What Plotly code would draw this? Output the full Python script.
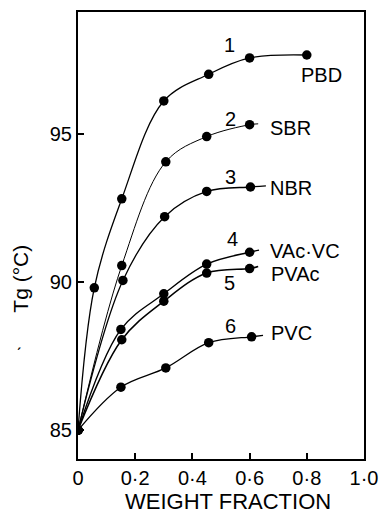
import plotly.graph_objects as go

# Data
labels = ["PBD", "SBR", "NBR", "VAc·VC", "PVAc", "PVC"]
numbers = ["1", "2", "3", "4", "5", "6"]

x_pbd = [0.0, 0.057, 0.153, 0.30, 0.457, 0.60, 0.80]
y_pbd = [85.0, 89.8, 92.8, 96.1, 97.0, 97.55, 97.65]

x_sbr = [0.0, 0.153, 0.307, 0.45, 0.60]
y_sbr = [85.0, 90.55, 94.05, 94.9, 95.3]

x_nbr = [0.0, 0.157, 0.303, 0.45, 0.603]
y_nbr = [85.0, 90.05, 92.2, 93.05, 93.2]

x_vacvc = [0.0, 0.15, 0.30, 0.45, 0.60]
y_vacvc = [85.0, 88.4, 89.6, 90.6, 91.0]

x_pvac = [0.0, 0.153, 0.30, 0.45, 0.60]
y_pvac = [85.0, 88.05, 89.35, 90.3, 90.45]

x_pvc = [0.0, 0.15, 0.307, 0.457, 0.607]
y_pvc = [85.0, 86.45, 87.1, 87.95, 88.15]

# where each drawn curve ends (line runs slightly past the last point)
line_end_x = [0.80, 0.63, 0.657, 0.633, 0.63, 0.647]
line_end_y = [97.65, 95.33, 93.24, 91.07, 90.52, 88.2]

# label positions
num_x = [0.53, 0.533, 0.533, 0.54, 0.53, 0.533]
num_y = [97.99, 95.5, 93.54, 91.45, 89.97, 88.52]
name_x = [0.773, 0.663, 0.663, 0.663, 0.667, 0.667]
name_y = [96.98, 95.2, 93.15, 91.04, 90.27, 88.29]

x_ticks = [0, 0.2, 0.4, 0.6, 0.8, 1.0]
x_ticktext = ["0", "0·2", "0·4", "0·6", "0·8", "1·0"]
y_ticks = [85, 90, 95]

series = [(x_pbd, y_pbd), (x_sbr, y_sbr), (x_nbr, y_nbr),
          (x_vacvc, y_vacvc), (x_pvac, y_pvac), (x_pvc, y_pvc)]
widths = [1.3, 1.0, 1.3, 1.4, 1.5, 1.3]

FONT = "Liberation Sans"
fig = go.Figure()
for i, (xs, ys) in enumerate(series):
    lx = list(xs) + ([line_end_x[i]] if line_end_x[i] > xs[-1] else [])
    ly = list(ys) + ([line_end_y[i]] if line_end_x[i] > xs[-1] else [])
    fig.add_trace(go.Scatter(x=lx, y=ly, mode="lines",
                             line=dict(color="black", width=widths[i], shape="spline", smoothing=1.0),
                             showlegend=False, hoverinfo="skip"))
    fig.add_trace(go.Scatter(x=xs, y=ys, mode="markers",
                             marker=dict(color="black", size=9.5),
                             showlegend=False))
    fig.add_annotation(x=num_x[i], y=num_y[i], text=numbers[i], showarrow=False,
                       font=dict(family=FONT, size=20, color="black"))
    fig.add_annotation(x=name_x[i], y=name_y[i], text=labels[i], showarrow=False,
                       xanchor="left", font=dict(family=FONT, size=20, color="black"))

fig.add_annotation(xref="paper", yref="paper", x=-0.2, y=0.403, text="Tg (°C)",
                   textangle=-90, showarrow=False, xanchor="center", yanchor="middle",
                   font=dict(family=FONT, size=21, color="black"))
fig.add_annotation(xref="paper", yref="paper", x=-0.207, y=0.232, text="ˊ",
                   showarrow=False, xanchor="center", yanchor="middle",
                   font=dict(family=FONT, size=18, color="black"))
fig.add_annotation(xref="paper", yref="paper", x=0.523, y=-0.096, yanchor="middle",
                   xanchor="center", text="WEIGHT FRACTION", showarrow=False,
                   font=dict(family=FONT, size=22, color="black"))

fig.update_xaxes(range=[0, 1.0], tickvals=x_ticks, ticktext=x_ticktext,
                 ticks="inside", ticklen=6, tickwidth=1.5, tickcolor="black",
                 showline=True, linecolor="black", linewidth=2, mirror=True,
                 showgrid=False, zeroline=False, ticklabeloverflow="allow",
                 tickfont=dict(family=FONT, size=20, color="black"))
fig.update_yaxes(range=[84.03, 99.1], tickvals=y_ticks,
                 ticks="inside", ticklen=6, tickwidth=1.5, tickcolor="black",
                 showline=True, linecolor="black", linewidth=2, mirror=True,
                 showgrid=False, zeroline=False,
                 tickfont=dict(family=FONT, size=20, color="black"))
fig.update_layout(width=388, height=518, margin=dict(l=78, r=10, t=10, b=59),
                  plot_bgcolor="white", paper_bgcolor="white")
fig.write_html("out.html")
